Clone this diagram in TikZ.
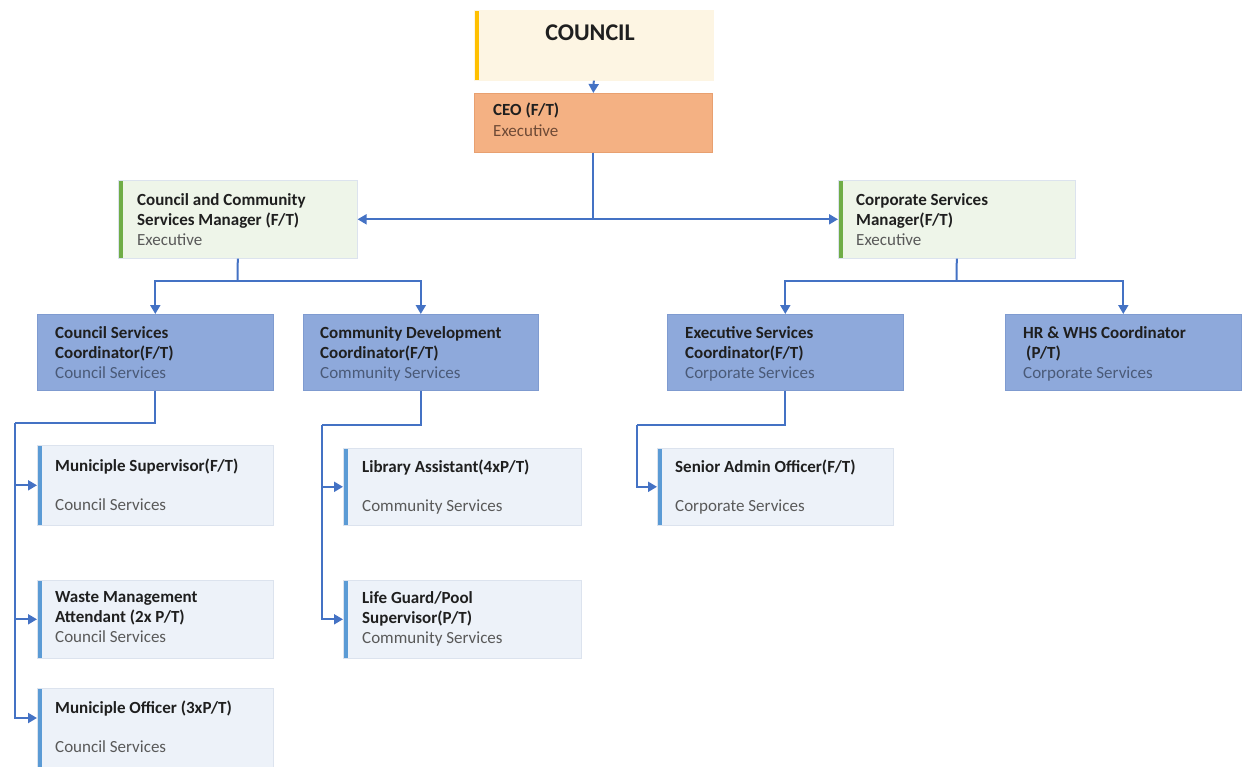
\documentclass[tikz,border=0pt]{standalone}
\usepackage{fontspec}
\setmainfont{Carlito}
\usetikzlibrary{arrows.meta,calc}
\definecolor{conncol}{HTML}{4472C4}
\definecolor{creamfill}{HTML}{FDF5E3}
\definecolor{yellowbar}{HTML}{FFC000}
\definecolor{orangefill}{HTML}{F4B183}
\definecolor{orangeedge}{HTML}{E8A070}
\definecolor{greenfill}{HTML}{EEF5E9}
\definecolor{greenbar}{HTML}{70AD47}
\definecolor{bluefill}{HTML}{8EA9DB}
\definecolor{blueedge}{HTML}{7F9BD0}
\definecolor{lightfill}{HTML}{EDF2F9}
\definecolor{lightedge}{HTML}{DCE3EE}
\definecolor{bluebar}{HTML}{5B9BD5}
\definecolor{titlecol}{HTML}{1F1F1F}
\definecolor{subcol}{HTML}{595959}
\definecolor{subbluecol}{HTML}{4A5A78}
\definecolor{subcolceo}{HTML}{6E4A36}
\tikzset{
  box/.style={rectangle, inner sep=0pt, anchor=north west, line width=0.6pt},
  bar/.style={path picture={\fill[#1] (path picture bounding box.north west) rectangle ([xshift=5pt]path picture bounding box.south west);}},
  cream/.style={box, fill=creamfill, draw=creamfill, bar=yellowbar},
  orangebox/.style={box, fill=orangefill, draw=orangeedge},
  greenbox/.style={box, fill=greenfill, draw=lightedge, bar=greenbar},
  midblue/.style={box, fill=bluefill, draw=blueedge},
  lightbox/.style={box, fill=lightfill, draw=lightedge, bar=bluebar},
  txt/.style={anchor=north west, inner sep=0pt, align=left, text=titlecol},
  three/.style={txt, font=\fontsize{17}{20}\selectfont\bfseries},
  gap/.style={txt, font=\fontsize{17}{39}\selectfont\bfseries},
  conn/.style={draw=conncol, line width=2pt, -{Triangle[length=9pt,width=10pt]}},
  line/.style={draw=conncol, line width=2pt}
}
\newcommand{\sub}[1]{{\mdseries\color{subcol}#1}}
\newcommand{\subb}[1]{{\mdseries\color{subbluecol}#1}}
\begin{document}
\begin{tikzpicture}[x=1pt,y=-1pt]
\useasboundingbox (0,0) rectangle (1248,766);
% boxes
\node[cream, minimum width=239pt, minimum height=70pt] (council) at (474,10) {};
\node[orangebox, minimum width=238pt, minimum height=59pt] (ceo) at (474,93) {};
\node[greenbox, minimum width=239pt, minimum height=78pt] (ccsm) at (118,180) {};
\node[greenbox, minimum width=237pt, minimum height=78pt] (csm) at (838,180) {};
\node[midblue, minimum width=236pt, minimum height=76pt] (csc) at (37,314) {};
\node[midblue, minimum width=235pt, minimum height=76pt] (cdc) at (303,314) {};
\node[midblue, minimum width=236pt, minimum height=76pt] (esc) at (667,314) {};
\node[midblue, minimum width=236pt, minimum height=76pt] (hr) at (1005,314) {};
\node[lightbox, minimum width=236pt, minimum height=80pt] (ms) at (37,445) {};
\node[lightbox, minimum width=236pt, minimum height=78pt] (wm) at (37,580) {};
\node[lightbox, minimum width=236pt, minimum height=90pt] (mo) at (37,688) {};
\node[lightbox, minimum width=238pt, minimum height=77pt] (la) at (343,448) {};
\node[lightbox, minimum width=238pt, minimum height=78pt] (lg) at (343,580) {};
\node[lightbox, minimum width=236pt, minimum height=77pt] (sao) at (657,448) {};
% texts
\node[inner sep=0pt, text=titlecol, font=\fontsize{24}{28}\selectfont\bfseries] (council-t) at (590,33) {COUNCIL};
\node[txt, font=\fontsize{17}{21}\selectfont\bfseries] (ceo-t) at (493,103) {CEO (F/T)\\{\mdseries\color{subcolceo}Executive}};
\node[three] (ccsm-t) at (137,193) {Council and Community\\Services Manager (F/T)\\\sub{Executive}};
\node[three] (csm-t) at (856,193) {Corporate Services\\Manager(F/T)\\\sub{Executive}};
\node[three] (csc-t) at (55,326) {Council Services\\Coordinator(F/T)\\\subb{Council Services}};
\node[three] (cdc-t) at (320,326) {Community Development\\Coordinator(F/T)\\\subb{Community Services}};
\node[three] (esc-t) at (685,326) {Executive Services\\Coordinator(F/T)\\\subb{Corporate Services}};
\node[three] (hr-t) at (1023,326) {HR \& WHS Coordinator\\\hspace{3pt}(P/T)\\\subb{Corporate Services}};
\node[gap] (ms-t) at (55,459) {Municiple Supervisor(F/T)\\\sub{Council Services}};
\node[three] (wm-t) at (55,591) {Waste Management\\Attendant (2x P/T)\\\sub{Council Services}};
\node[gap] (mo-t) at (55,701) {Municiple Officer (3xP/T)\\\sub{Council Services}};
\node[gap] (la-t) at (362,460) {Library Assistant(4xP/T)\\\sub{Community Services}};
\node[three] (lg-t) at (362,591) {Life Guard/Pool\\Supervisor(P/T)\\\sub{Community Services}};
\node[gap] (sao-t) at (675,460) {Senior Admin Officer(F/T)\\\sub{Corporate Services}};
% connectors
\draw[conn] (council.south) -- (ceo.north);
\draw[conn] (ceo.south) |- (ccsm.east);
\draw[conn] (ceo.south) |- (csm.west);
\coordinate (ccsmbus) at (237.5,281);
\draw[line] (ccsm.south) -- (ccsmbus);
\draw[conn] (ccsmbus) -| (csc.north);
\draw[conn] (ccsmbus) -| (cdc.north);
\coordinate (csmbus) at (956.5,281);
\draw[line] (csm.south) -- (csmbus);
\draw[conn] (csmbus) -| (esc.north);
\draw[conn] (csmbus) -| (hr.north);
\coordinate (cscbus) at (15,423);
\draw[line] (csc.south) |- (cscbus);
\draw[conn] (cscbus) |- (ms.west);
\draw[conn] (cscbus) |- (wm.west);
\draw[conn] (cscbus) |- ([yshift=-30pt]mo.north west);
\coordinate (cdcbus) at (322,425);
\draw[line] (cdc.south) |- (cdcbus);
\draw[conn] (cdcbus) |- (la.west);
\draw[conn] (cdcbus) |- (lg.west);
\coordinate (escbus) at (637,425);
\draw[line] (esc.south) |- (escbus);
\draw[conn] (escbus) |- (sao.west);
\end{tikzpicture}
\end{document}
